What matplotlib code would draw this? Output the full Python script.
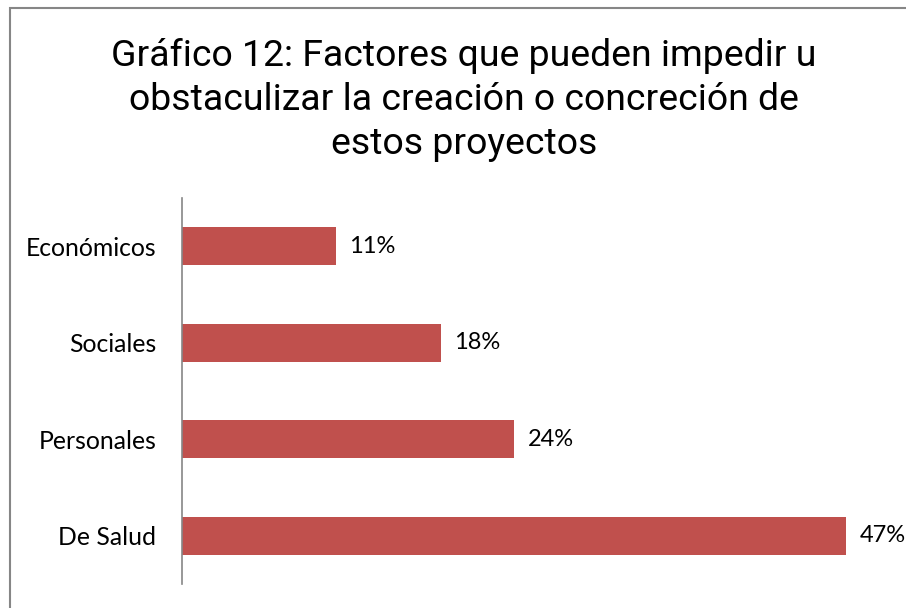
import matplotlib.pyplot as plt
from matplotlib.patches import Rectangle

categorias = ["De Salud", "Personales", "Sociales", "Económicos"]
valores = [47.0, 23.5, 18.3, 10.9]
etiquetas = ["47%", "24%", "18%", "11%"]

fig = plt.figure(figsize=(9.06, 6.08), dpi=100)
# borde del gráfico (recortado a la derecha y abajo)
fig.patches.append(Rectangle((10 / 906, -0.1), 1.2, 1 - 8 / 608 + 0.1, transform=fig.transFigure,
                             fill=False, edgecolor="#868686", linewidth=1.5))

ax = fig.add_axes([182 / 906, 1 - 584 / 608, 1.0, 386 / 608])
y = range(len(categorias))
ax.barh(y, valores, height=0.39, color="#C0504D")
for i, v in enumerate(valores):
    ax.text(v + 0.95, i, etiquetas[i], va="center", ha="left", fontsize=17, family="Lato")

ax.set_xlim(0, 906 / 14.13)
ax.set_ylim(-0.5, 3.5)
ax.set_yticks(list(y))
ax.set_yticklabels(categorias, fontsize=17.8, family="Lato")
ax.tick_params(axis="y", length=0, pad=18.5)
ax.set_xticks([])
for s in ["top", "right", "bottom"]:
    ax.spines[s].set_visible(False)
ax.spines["left"].set_color("#868686")
ax.spines["left"].set_linewidth(1.2)

fig.text(464 / 906, 1 - 100 / 608,
         "Gráfico 12: Factores que pueden impedir u\nobstaculizar la creación o concreción de\nestos proyectos",
         ha="center", va="center", fontsize=26.9, family="Roboto", linespacing=1.28)

plt.savefig("out.png", dpi=100)
